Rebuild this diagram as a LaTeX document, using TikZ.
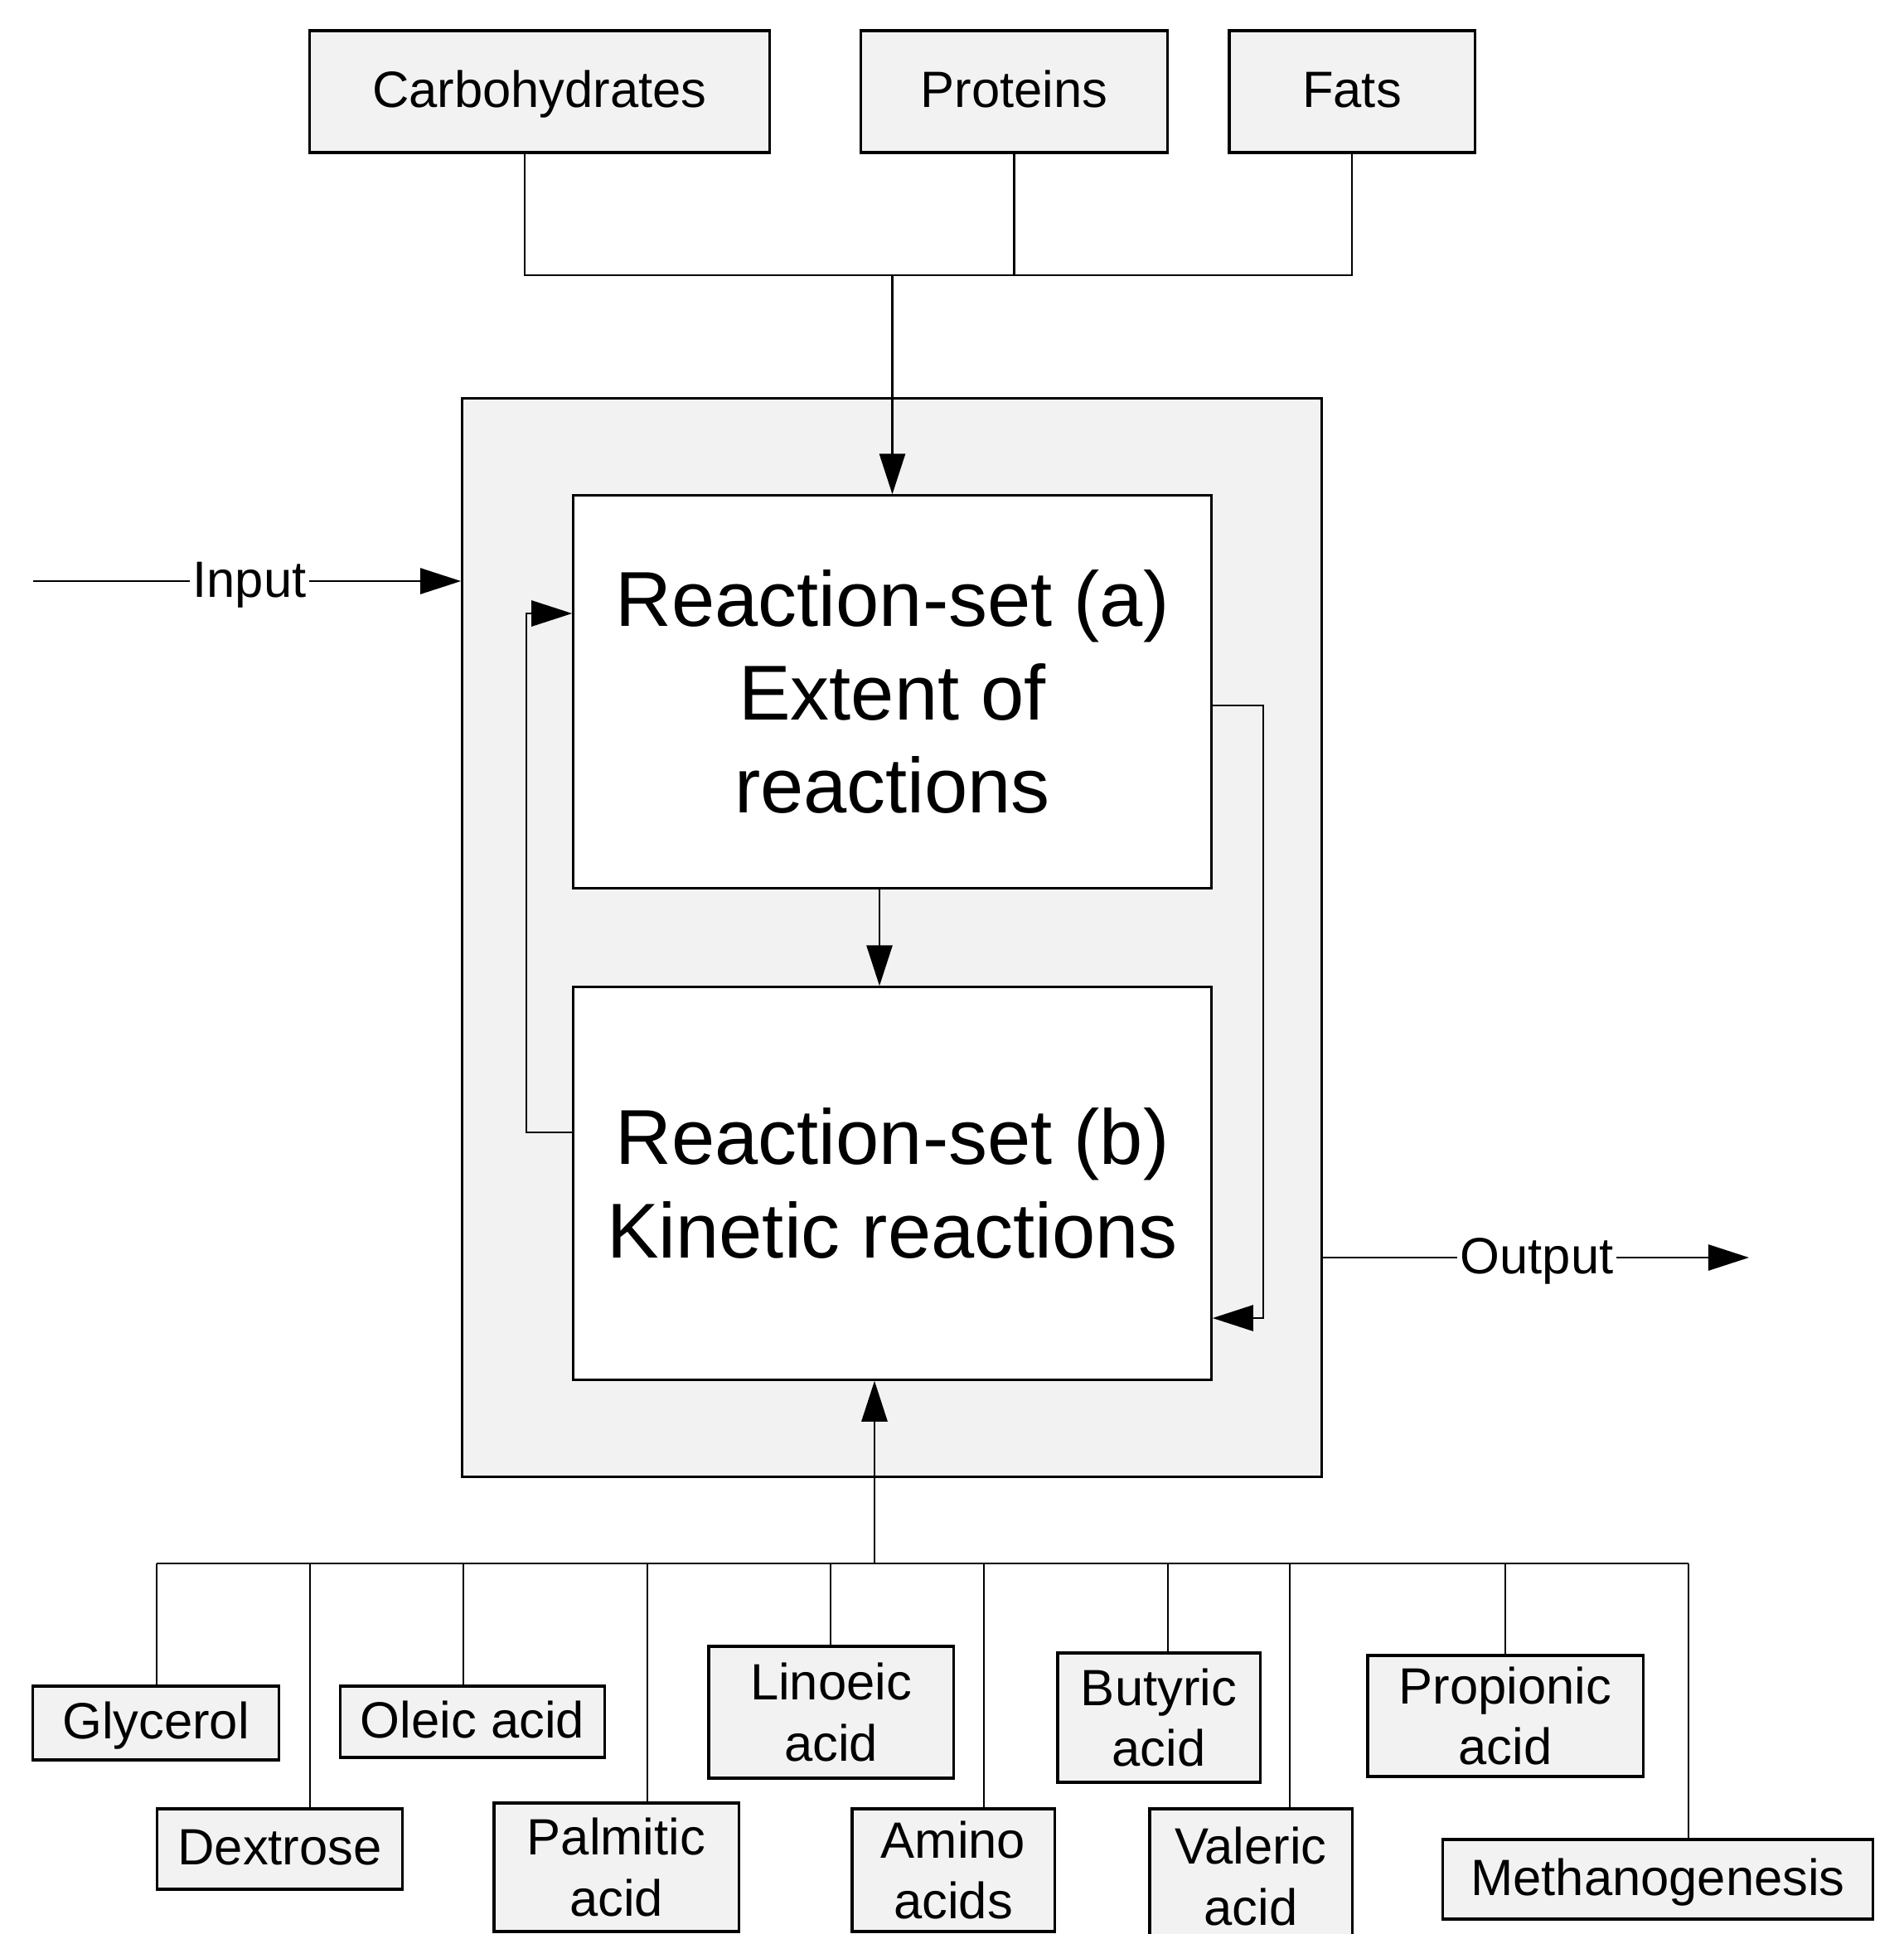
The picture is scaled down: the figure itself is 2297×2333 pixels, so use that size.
\documentclass[tikz,border=0pt]{standalone}
\usepackage{fontspec}
\setmainfont{Liberation Sans}
\usetikzlibrary{arrows.meta}
\definecolor{boxfill}{HTML}{F2F2F2}
\begin{document}
\begin{tikzpicture}[x=0.01cm, y=-0.01cm,
  sbox/.style={draw, line width=0.9pt, fill=boxfill, inner sep=0pt, align=center, font=\fontsize{17.5}{21}\selectfont},
  oneline/.style={text height=14.9pt, text depth=4.07pt},
  bigbox/.style={draw, line width=0.9pt, fill=white, inner sep=0pt, align=center, minimum width=7.69cm, minimum height=4.73cm, font=\fontsize{26.7}{31.9}\selectfont},
  conn/.style={line width=0.8pt},
  arr/.style={conn, -{Triangle[length=4.9mm,width=3.1mm]}},
  lbl/.style={fill=white, inner sep=1pt, text height=14.9pt, text depth=4.07pt, font=\fontsize{17.5}{21}\selectfont}]
\useasboundingbox (0,0) rectangle (2297,2333);

% top boxes
\node[sbox, oneline, minimum width=5.54cm, minimum height=1.47cm] (carb) at (651,110.5) {Carbohydrates};
\node[sbox, oneline, minimum width=3.69cm, minimum height=1.47cm] (prot) at (1223.5,110.5) {Proteins};
\node[sbox, oneline, minimum width=2.96cm, minimum height=1.47cm] (fats) at (1631,110.5) {Fats};

% outer and reaction boxes
\node[draw, line width=0.9pt, fill=boxfill, inner sep=0pt, minimum width=10.36cm, minimum height=13cm] (outer) at (1076,1131) {};
\node[bigbox] (ra) at (1076.5,834.5) {Reaction-set (a)\\Extent of\\reactions};
\node[bigbox] (rb) at (1076.5,1427.5) {Reaction-set (b)\\Kinetic reactions};

% top connectors
\coordinate (cJ) at (633,332);
\coordinate (fJ) at (1631,332);
\coordinate (tJ) at (1076.5,332);
\draw[conn] (cJ |- carb.south) -- (cJ) -- (fJ) -- (fats.south);
\draw[conn] (prot.south) -- (prot.south |- cJ);
\draw[arr] (tJ) -- (ra.north);

% a -> b
\coordinate (abx) at (1061,0);
\draw[arr] (ra.south -| abx) -- (rb.north -| abx);

% feedback loops
\coordinate (fbL1) at (635,1366);
\coordinate (fbL2) at (635,740);
\draw[arr] (fbL1 -| rb.west) -- (fbL1) -- (fbL2) -- (fbL2 -| ra.west);
\coordinate (fbR1) at (1524,851);
\coordinate (fbR2) at (1524,1590);
\draw[arr] (fbR1 -| ra.east) -- (fbR1) -- (fbR2) -- (fbR2 -| rb.east);

% input / output
\coordinate (inS) at (40,701);
\draw[arr] (inS) -- (inS -| outer.west);
\node[lbl] (inL) at (301,701) {Input};
\coordinate (outE) at (2110,1517);
\draw[arr] (outE -| outer.east) -- (outE);
\node[lbl] (outL) at (1854,1517) {Output};

% bottom boxes
\node[sbox, oneline, minimum width=2.96cm, minimum height=0.89cm] (glyc) at (188,2078.5) {Glycerol};
\node[sbox, oneline, minimum width=2.95cm, minimum height=0.97cm] (dext) at (337.5,2230.5) {Dextrose};
\node[sbox, oneline, minimum width=3.18cm, minimum height=0.86cm] (olei) at (570,2077) {Oleic acid};
\node[sbox, minimum width=2.95cm, minimum height=1.55cm] (palm) at (743.5,2252.5) {Palmitic\\acid};
\node[sbox, minimum width=2.95cm, minimum height=1.59cm] (lino) at (1002.5,2065.5) {Linoeic\\acid};
\node[sbox, minimum width=2.44cm, minimum height=1.48cm] (amin) at (1150,2256) {Amino\\acids};
\node[sbox, minimum width=2.44cm, minimum height=1.56cm] (buty) at (1398,2072) {Butyric\\acid};
\node[sbox, minimum width=2.44cm, minimum height=1.63cm] (vale) at (1509,2263.5) {Valeric\\acid};
\node[sbox, minimum width=3.32cm, minimum height=1.46cm] (prop) at (1816,2070) {Propionic\\acid};
\node[sbox, oneline, minimum width=5.18cm, minimum height=0.96cm] (meth) at (2000,2267) {Methanogenesis};

% bottom bus
\coordinate (bGly) at (189,1886);
\coordinate (bDex) at (374,1886);
\coordinate (bOle) at (559,1886);
\coordinate (bPal) at (781,1886);
\coordinate (bLin) at (1002,1886);
\coordinate (bAmi) at (1187,1886);
\coordinate (bBut) at (1409,1886);
\coordinate (bVal) at (1556,1886);
\coordinate (bPro) at (1816,1886);
\coordinate (bMet) at (2037,1886);
\coordinate (bUp) at (1055,1886);
\draw[conn] (bGly) -- (bMet);
\draw[conn] (bGly) -- (bGly |- glyc.north);
\draw[conn] (bDex) -- (bDex |- dext.north);
\draw[conn] (bOle) -- (bOle |- olei.north);
\draw[conn] (bPal) -- (bPal |- palm.north);
\draw[conn] (bLin) -- (bLin |- lino.north);
\draw[conn] (bAmi) -- (bAmi |- amin.north);
\draw[conn] (bBut) -- (bBut |- buty.north);
\draw[conn] (bVal) -- (bVal |- vale.north);
\draw[conn] (bPro) -- (bPro |- prop.north);
\draw[conn] (bMet) -- (bMet |- meth.north);
\draw[arr] (bUp) -- (rb.south -| bUp);
\end{tikzpicture}
\end{document}
